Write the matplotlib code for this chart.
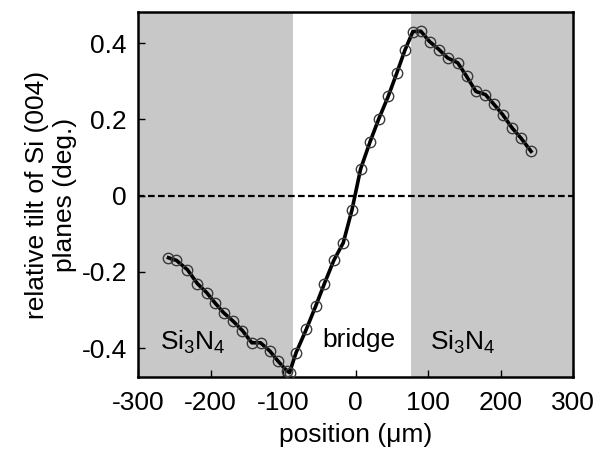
import matplotlib
matplotlib.use('Agg')
import matplotlib.pyplot as plt

# left Si3N4 region
x_left = [-258, -247, -232, -218, -205, -194, -182, -169, -156, -143, -131, -118, -107, -95]
y_left = [-0.163, -0.170, -0.194, -0.231, -0.255, -0.281, -0.307, -0.329, -0.354, -0.386, -0.386, -0.408, -0.434, -0.459]

# bridge
x_bridge = [-91, -82, -68, -55, -43, -30, -17, -5, 7, 20, 32, 45, 57, 68, 79]
y_bridge = [-0.464, -0.412, -0.351, -0.290, -0.231, -0.170, -0.124, -0.038, 0.070, 0.141, 0.201, 0.260, 0.322, 0.381, 0.430]

# right Si3N4 region
x_right = [90, 102, 115, 127, 141, 153, 166, 179, 191, 203, 216, 228, 242]
y_right = [0.431, 0.404, 0.383, 0.361, 0.348, 0.313, 0.273, 0.265, 0.239, 0.212, 0.177, 0.151, 0.116]

x = x_left + x_bridge + x_right
y = y_left + y_bridge + y_right

bridge_edges = [-86, 76]

plt.rcParams['font.family'] = ['Liberation Sans', 'DejaVu Sans']
plt.rcParams['axes.unicode_minus'] = False
plt.rcParams['mathtext.fontset'] = 'custom'
plt.rcParams['mathtext.rm'] = 'Liberation Sans'

fs = 19
fig = plt.figure(figsize=(6.01, 4.5), dpi=100)
ax = fig.add_axes([0.2296, 0.162, 0.724, 0.811])

ax.axvspan(-300, bridge_edges[0], color='#c8c8c8', lw=0, zorder=0)
ax.axvspan(bridge_edges[1], 300, color='#c8c8c8', lw=0, zorder=0)
ax.axhline(0, color='black', ls=(0, (3, 1.5)), lw=1.6, zorder=1)

ax.plot(x, y, color='black', lw=2.6, zorder=2)
ax.plot(x, y, ls='none', marker='o', ms=7.5, mfc='none', mec='#3a3a3a', mew=1.0, zorder=3)

ax.text(-270, -0.404, r'$\mathregular{Si_3N_4}$', fontsize=fs, va='baseline')
ax.text(4, -0.396, 'bridge', fontsize=fs, ha='center', va='baseline')
ax.text(102, -0.404, r'$\mathregular{Si_3N_4}$', fontsize=fs, va='baseline')

ax.set_xlim(-300, 300)
ax.set_ylim(-0.476, 0.481)
ax.set_xticks([-300, -200, -100, 0, 100, 200, 300])
ax.set_yticks([-0.4, -0.2, 0, 0.2, 0.4])
ax.set_yticklabels(['-0.4', '-0.2', '0', '0.2', '0.4'])
ax.tick_params(direction='in', labelsize=fs, length=5, width=1)
ax.tick_params(axis='x', pad=10)
ax.tick_params(axis='y', pad=8)
for s in ax.spines.values():
    s.set_linewidth(1.8)

ax.set_xlabel('position (\u03bcm)', fontsize=fs, labelpad=6)
ax.set_ylabel('relative tilt of Si (004)\nplanes (deg.)', fontsize=fs, labelpad=3, linespacing=1.25)

plt.savefig('out.png', dpi=100)
